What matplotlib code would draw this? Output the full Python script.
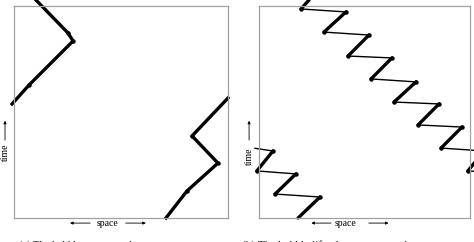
import numpy as np
import matplotlib
matplotlib.use("Agg")
import matplotlib.pyplot as plt

plt.rcParams['font.family'] = ['Liberation Serif', 'DejaVu Serif']

# panel (a): two thick paths (x in space, y in time, both 0..1 inside the box)
aLeftX = [0.103, 0.252, 0.276, 0.070, -0.009]
aLeftY = [1.028, 0.873, 0.835, 0.627, 0.538]
aRightX = [1.000, 0.832, 0.953, 0.808, 0.710]
aRightY = [0.566, 0.387, 0.259, 0.127, 0.000]

# panel (b): zigzag, thick diagonals and thin near-horizontal steps
bMainX = [0.237, 0.199, 0.412, 0.308, 0.521, 0.422, 0.630, 0.531, 0.744,
          0.640, 0.853, 0.754, 0.962, 0.863, 1.066, 0.990, 1.120]
bMainY = [1.028, 0.986, 0.972, 0.877, 0.863, 0.764, 0.755, 0.656, 0.642,
          0.547, 0.538, 0.439, 0.429, 0.330, 0.316, 0.222, 0.215]
bWrapX = [-0.020, 0.066, -0.010, 0.175, 0.076, 0.289, 0.185]
bWrapY = [0.329, 0.316, 0.222, 0.208, 0.113, 0.099, 0.000]

captions = ["(a) The bubble returns to the same constant state",
            "(b) The bubble lifts the constant to the next state"]


def drawZigzag(ax, xs, ys, thickFirst=True):
    for i in range(len(xs) - 1):
        thick = (i % 2 == 0) == thickFirst
        ax.plot(xs[i:i+2], ys[i:i+2], color='black',
                lw=2.4 if thick else 1.0, solid_capstyle='round', clip_on=False)
    ax.plot(xs[1:-1], ys[1:-1], 'o', color='black', ms=2.2, clip_on=False)


def decorate(ax, spaceX, timeY):
    for s in ax.spines.values():
        s.set_color('#a0a0a0')
        s.set_linewidth(0.9)
    ax.set_xlim(0, 1)
    ax.set_ylim(0, 1)
    ax.set_xticks([])
    ax.set_yticks([])
    arrow = dict(arrowstyle='-|>', color='black', lw=0.6, mutation_scale=4)
    ax.annotate('', xy=(spaceX[0] - 0.12, -0.024), xytext=(spaceX[0], -0.024),
                xycoords='axes fraction', arrowprops=arrow, annotation_clip=False)
    ax.annotate('', xy=(spaceX[2] + 0.12, -0.024), xytext=(spaceX[2], -0.024),
                xycoords='axes fraction', arrowprops=arrow, annotation_clip=False)
    ax.text(spaceX[1], -0.024, 'space', transform=ax.transAxes, fontsize=7,
            ha='center', va='center')
    ax.annotate('', xy=(timeY[0], 0.472), xytext=(timeY[0], 0.354),
                xycoords='axes fraction', arrowprops=arrow, annotation_clip=False)
    ax.text(timeY[0], timeY[1], 'time', transform=ax.transAxes, fontsize=7,
            ha='center', va='center', rotation=90)


fig = plt.figure(figsize=(4.74, 2.42), dpi=100)
axA = fig.add_axes([14/474, 24/242, 214/474, 212/242])
axB = fig.add_axes([259/474, 24/242, 211/474, 212/242])

axA.plot(aLeftX, aLeftY, color='black', lw=2.4, clip_on=False)
axA.plot(aLeftX[1:-1], aLeftY[1:-1], 'o', color='black', ms=2.2, clip_on=False)
axA.plot(aRightX, aRightY, color='black', lw=2.4, clip_on=False)
axA.plot(aRightX[1:-1], aRightY[1:-1], 'o', color='black', ms=2.2, clip_on=False)
decorate(axA, (0.369, 0.435, 0.509), (-0.042, 0.311))

drawZigzag(axB, bMainX, bMainY, thickFirst=True)
drawZigzag(axB, bWrapX, bWrapY, thickFirst=False)
decorate(axB, (0.355, 0.412, 0.507), (-0.047, 0.292))

# captions sit at the bottom edge, partly cut off as in the source figure
fig.text(121/474, 0.008, captions[0], fontsize=7.6, ha='center', va='top')
fig.text(352/474, 0.008, captions[1], fontsize=8.2, ha='center', va='top')

fig.savefig('out.png', dpi=100)
